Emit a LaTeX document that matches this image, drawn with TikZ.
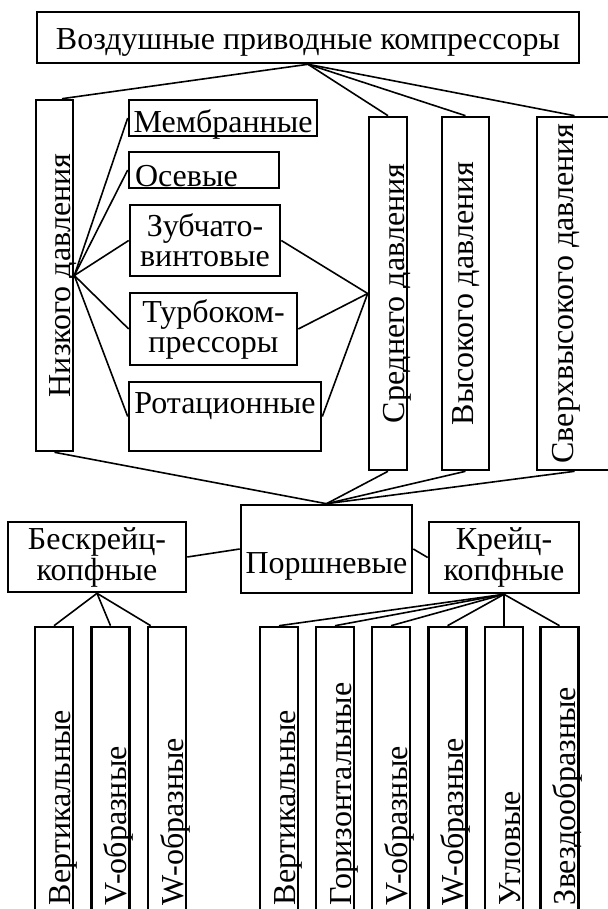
\documentclass[tikz,border=0pt]{standalone}
\usepackage{fontspec}
\setmainfont{Liberation Serif}
\usepackage{tikz}
\usetikzlibrary{positioning}

\begin{document}
\begin{tikzpicture}[x=0.5pt, y=-0.5pt,
  box/.style={draw, line width=1.3pt, inner sep=0pt, font=\fontsize{16}{12.5}\selectfont},
  vbox/.style={box, rotate=90, minimum width=176.5pt, minimum height=19pt, text height=16pt, text depth=0pt},
  bbox/.style={vbox, minimum width=149pt, text width=129pt, inner xsep=10pt, align=left},
  link/.style={line width=0.8pt}]
\useasboundingbox (0,0) rectangle (607,909);

% Top
\node[box, minimum width=271pt, minimum height=25.5pt, text height=12.5pt, text depth=0pt] (top) at (308,37.5) {Воздушные приводные компрессоры};

% Pressure groups
\node[vbox, minimum width=175.5pt, minimum height=18.5pt] (low) at (54.5,275.5) {Низкого давления};
\node[vbox] (mid) at (388,293.5) {Среднего давления};
\node[vbox, minimum height=23.5pt, text height=7.5pt] (high) at (465.5,293.5) {Высокого давления};
\node[vbox, minimum height=37.5pt, text height=0pt, text depth=1.5pt] (ultra) at (574.5,293.5) {Сверхвысокого давления};

% Low pressure kinds
\node[box, minimum width=94pt, minimum height=18pt, text height=15pt, text depth=0pt] (memb) at (223,118) {Мембранные};
\node[box, minimum height=18pt, text width=69pt, inner xsep=3pt, align=left, text height=17pt, text depth=0pt] (axial) at (204,170) {Осевые};
\node[box, minimum width=75pt, minimum height=35.5pt, align=center, font=\fontsize{16}{15}\selectfont] (screw) at (205,240.5) {Зубчато-\\винтовые};
\node[box, minimum width=83.5pt, minimum height=36pt, align=center, font=\fontsize{16}{15}\selectfont] (turbo) at (213.5,329) {Турбоком-\\прессоры};
\node[box, minimum width=96pt, minimum height=34.5pt, text height=1.5pt, text depth=5pt] (rot) at (225,416.5) {Ротационные};

% Piston
\node[box, minimum width=85.5pt, minimum height=44pt, text height=24pt, text depth=0pt] (piston) at (326.5,549) {Поршневые};
\node[box, minimum width=89pt, minimum height=35pt, align=center] (nocross) at (97,557) {Бескрейц-\\копфные};
\node[box, minimum width=75pt, minimum height=35.5pt, align=center] (cross) at (504,557.5) {Крейц-\\копфные};

% Piston kinds
\node[bbox] (nc1) at (54,776) {Вертикальные};
\node[bbox] (nc2) at (110.5,776) {V-образные};
\node[bbox] (nc3) at (167,776) {W-образные};
\node[bbox] (cr1) at (279,776) {Вертикальные};
\node[bbox] (cr2) at (335,776) {Горизонтальные};
\node[bbox] (cr3) at (391,776) {V-образные};
\node[bbox] (cr4) at (447.5,776) {W-образные};
\node[bbox] (cr5) at (504,776) {Угловые};
\node[bbox] (cr6) at (559.5,776) {Звездообразные};

% Links from top
\draw[link] (top.south) -- ([xshift=3.75pt]low.east);
\draw[link] (top.south) -- (mid.east);
\draw[link] (top.south) -- (high.east);
\draw[link] (top.south) -- (ultra.east);

% Low pressure links
\draw[link] (low.south) -- (memb.west);
\draw[link] (low.south) -- (axial.west);
\draw[link] (low.south) -- (screw.west);
\draw[link] (low.south) -- (turbo.west);
\draw[link] (low.south) -- (rot.west);
\draw[link] (mid.north) -- (screw.east);
\draw[link] (mid.north) -- (turbo.east);
\draw[link] (mid.north) -- (rot.east);

% Down to piston
\draw[link] (low.west) -- (piston.north);
\draw[link] (mid.west) -- (piston.north);
\draw[link] (high.west) -- (piston.north);
\draw[link] (ultra.west) -- (piston.north);
\draw[link] (piston.west) -- (nocross.east);
\draw[link] (piston.east) -- (cross.west);

% Piston kinds
\draw[link] (nocross.south) -- (nc1.east);
\draw[link] (nocross.south) -- (nc2.east);
\draw[link] (nocross.south) -- ([xshift=2pt]nc3.north east);
\draw[link] (cross.south) -- (cr1.east);
\draw[link] (cross.south) -- (cr2.east);
\draw[link] (cross.south) -- (cr3.east);
\draw[link] (cross.south) -- (cr4.east);
\draw[link] (cross.south) -- (cr5.east);
\draw[link] (cross.south) -- (cr6.east);
\end{tikzpicture}
\end{document}
